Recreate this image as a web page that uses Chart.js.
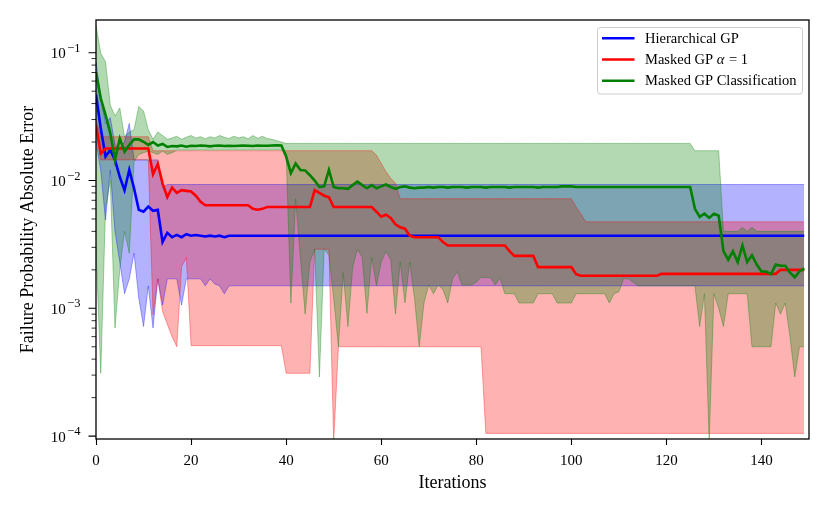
<!DOCTYPE html>
<html>
<head>
<meta charset="utf-8">
<script src="https://cdn.jsdelivr.net/npm/chart.js@4.4.0/dist/chart.umd.min.js"></script>
<style>
html, body { margin: 0; padding: 0; background: #fff; }
canvas { display: block; }
</style>
</head>
<body>
<canvas id="errChart" width="830" height="513"></canvas>
<script>
// ---- data ----
const iterations = [
  0, 1, 2, 3, 4, 5, 6, 7, 8, 9, 10, 11, 12, 13, 14, 15, 16, 17, 18, 19,
  20, 21, 22, 23, 24, 25, 26, 27, 28, 29, 30, 31, 32, 33, 34, 35, 36, 37, 38, 39,
  40, 41, 42, 43, 44, 45, 46, 47, 48, 49, 50, 51, 52, 53, 54, 55, 56, 57, 58, 59,
  60, 61, 62, 63, 64, 65, 66, 67, 68, 69, 70, 71, 72, 73, 74, 75, 76, 77, 78, 79,
  80, 81, 82, 83, 84, 85, 86, 87, 88, 89, 90, 91, 92, 93, 94, 95, 96, 97, 98, 99,
  100, 101, 102, 103, 104, 105, 106, 107, 108, 109, 110, 111, 112, 113, 114, 115, 116, 117, 118, 119,
  120, 121, 122, 123, 124, 125, 126, 127, 128, 129, 130, 131, 132, 133, 134, 135, 136, 137, 138, 139,
  140, 141, 142, 143, 144, 145, 146, 147, 148, 149
];

const seriesNames = ['Hierarchical GP', 'Masked GP \u03b1 = 1', 'Masked GP Classification'];

// Hierarchical GP
const hierMean = [
  0.047, 0.0256, 0.0154, 0.0173, 0.0145, 0.0107, 0.0084, 0.0121, 0.0087, 0.0059,
  0.0057, 0.00625, 0.0058, 0.0059, 0.0033, 0.0039, 0.0036, 0.00375, 0.0036, 0.0038,
  0.0037, 0.00375, 0.0037, 0.00365, 0.0037, 0.00365, 0.0037, 0.0036, 0.0037, 0.0037,
  0.0037, 0.0037, 0.0037, 0.0037, 0.0037, 0.0037, 0.0037, 0.0037, 0.0037, 0.0037,
  0.0037, 0.0037, 0.0037, 0.0037, 0.0037, 0.0037, 0.0037, 0.0037, 0.0037, 0.0037,
  0.0037, 0.0037, 0.0037, 0.0037, 0.0037, 0.0037, 0.0037, 0.0037, 0.0037, 0.0037,
  0.0037, 0.0037, 0.0037, 0.0037, 0.0037, 0.0037, 0.0037, 0.0037, 0.0037, 0.0037,
  0.0037, 0.0037, 0.0037, 0.0037, 0.0037, 0.0037, 0.0037, 0.0037, 0.0037, 0.0037,
  0.0037, 0.0037, 0.0037, 0.0037, 0.0037, 0.0037, 0.0037, 0.0037, 0.0037, 0.0037,
  0.0037, 0.0037, 0.0037, 0.0037, 0.0037, 0.0037, 0.0037, 0.0037, 0.0037, 0.0037,
  0.0037, 0.0037, 0.0037, 0.0037, 0.0037, 0.0037, 0.0037, 0.0037, 0.0037, 0.0037,
  0.0037, 0.0037, 0.0037, 0.0037, 0.0037, 0.0037, 0.0037, 0.0037, 0.0037, 0.0037,
  0.0037, 0.0037, 0.0037, 0.0037, 0.0037, 0.0037, 0.0037, 0.0037, 0.0037, 0.0037,
  0.0037, 0.0037, 0.0037, 0.0037, 0.0037, 0.0037, 0.0037, 0.0037, 0.0037, 0.0037,
  0.0037, 0.0037, 0.0037, 0.0037, 0.0037, 0.0037, 0.0037, 0.0037, 0.0037, 0.0037
];
const hierLow = [
  0.02, 0.012, 0.0049, 0.012, 0.004, 0.0023, 0.0013, 0.0017, 0.0027, 0.0012,
  0.00072, 0.0015, 0.0007, 0.0017, 0.00106, 0.0017, 0.0017, 0.0017, 0.00106, 0.0017,
  0.0017, 0.0017, 0.0017, 0.0015, 0.0017, 0.00155, 0.0015, 0.0013, 0.0015, 0.0015,
  0.0015, 0.0015, 0.0015, 0.0015, 0.0015, 0.0015, 0.0015, 0.0015, 0.0015, 0.0015,
  0.0015, 0.0015, 0.0015, 0.0015, 0.0015, 0.0015, 0.0015, 0.0015, 0.0015, 0.0015,
  0.0015, 0.0015, 0.0015, 0.0015, 0.0015, 0.0015, 0.0015, 0.0015, 0.0015, 0.0015,
  0.0015, 0.0015, 0.0015, 0.0015, 0.0015, 0.0015, 0.0015, 0.0015, 0.0015, 0.0015,
  0.0015, 0.0015, 0.0015, 0.0015, 0.0015, 0.0015, 0.0015, 0.0015, 0.0015, 0.0015,
  0.0015, 0.0015, 0.0015, 0.0015, 0.0015, 0.0015, 0.0015, 0.0015, 0.0015, 0.0015,
  0.0015, 0.0015, 0.0015, 0.0015, 0.0015, 0.0015, 0.0015, 0.0015, 0.0015, 0.0015,
  0.0015, 0.0015, 0.0015, 0.0015, 0.0015, 0.0015, 0.0015, 0.0015, 0.0015, 0.0015,
  0.0015, 0.0015, 0.0015, 0.0015, 0.0015, 0.0015, 0.0015, 0.0015, 0.0015, 0.0015,
  0.0015, 0.0015, 0.0015, 0.0015, 0.0015, 0.0015, 0.0015, 0.0015, 0.0015, 0.0015,
  0.0015, 0.0015, 0.0015, 0.0015, 0.0015, 0.0015, 0.0015, 0.0015, 0.0015, 0.0015,
  0.0015, 0.0015, 0.0015, 0.0015, 0.0015, 0.0015, 0.0015, 0.0015, 0.0015, 0.0015
];
const hierHigh = [
  0.085, 0.045, 0.028, 0.031, 0.019, 0.018, 0.02, 0.028, 0.0145, 0.0145,
  0.0145, 0.0145, 0.0145, 0.0145, 0.0088, 0.0093, 0.0093, 0.0093, 0.0093, 0.0093,
  0.0093, 0.0093, 0.0093, 0.0093, 0.0093, 0.0093, 0.0093, 0.0093, 0.0093, 0.0093,
  0.0093, 0.0093, 0.0093, 0.0093, 0.0093, 0.0093, 0.0093, 0.0093, 0.0093, 0.0093,
  0.0093, 0.0093, 0.0093, 0.0093, 0.0093, 0.0093, 0.0093, 0.0093, 0.0093, 0.0093,
  0.0093, 0.0093, 0.0093, 0.0093, 0.0093, 0.0093, 0.0093, 0.0093, 0.0093, 0.0093,
  0.0093, 0.0093, 0.0093, 0.0093, 0.0093, 0.0093, 0.0093, 0.0093, 0.0093, 0.0093,
  0.0093, 0.0093, 0.0093, 0.0093, 0.0093, 0.0093, 0.0093, 0.0093, 0.0093, 0.0093,
  0.0093, 0.0093, 0.0093, 0.0093, 0.0093, 0.0093, 0.0093, 0.0093, 0.0093, 0.0093,
  0.0093, 0.0093, 0.0093, 0.0093, 0.0093, 0.0093, 0.0093, 0.0093, 0.0093, 0.0093,
  0.0093, 0.0093, 0.0093, 0.0093, 0.0093, 0.0093, 0.0093, 0.0093, 0.0093, 0.0093,
  0.0093, 0.0093, 0.0093, 0.0093, 0.0093, 0.0093, 0.0093, 0.0093, 0.0093, 0.0093,
  0.0093, 0.0093, 0.0093, 0.0093, 0.0093, 0.0093, 0.0093, 0.0093, 0.0093, 0.0093,
  0.0093, 0.0093, 0.0093, 0.0093, 0.0093, 0.0093, 0.0093, 0.0093, 0.0093, 0.0093,
  0.0093, 0.0093, 0.0093, 0.0093, 0.0093, 0.0093, 0.0093, 0.0093, 0.0093, 0.0093
];

// Masked GP alpha = 1
const maskMean = [
  0.027, 0.0163, 0.0178, 0.0178, 0.0178, 0.0178, 0.0178, 0.0178, 0.0178, 0.0178,
  0.0178, 0.0178, 0.0112, 0.0135, 0.0095, 0.0074, 0.0088, 0.008, 0.0084, 0.0083,
  0.0082, 0.0076, 0.0068, 0.0064, 0.0064, 0.0064, 0.0064, 0.0064, 0.0064, 0.0064,
  0.0064, 0.0064, 0.0064, 0.006, 0.0059, 0.006, 0.0062, 0.0062, 0.0062, 0.0062,
  0.0062, 0.0062, 0.0062, 0.0062, 0.0062, 0.0062, 0.0084, 0.008, 0.0076, 0.0074,
  0.0062, 0.0062, 0.0062, 0.0062, 0.0062, 0.0062, 0.0062, 0.0062, 0.0062, 0.0057,
  0.0052, 0.0054, 0.0051, 0.00455, 0.0043, 0.0042, 0.0037, 0.0036, 0.0036, 0.0036,
  0.0036, 0.0036, 0.0036, 0.0033, 0.0031, 0.0031, 0.0031, 0.0031, 0.0031, 0.0031,
  0.0031, 0.0031, 0.0031, 0.0031, 0.0031, 0.0031, 0.0031, 0.0028, 0.00257, 0.00257,
  0.00257, 0.00257, 0.00257, 0.0021, 0.0021, 0.0021, 0.0021, 0.0021, 0.0021, 0.0021,
  0.0021, 0.00185, 0.0018, 0.0018, 0.0018, 0.0018, 0.0018, 0.0018, 0.0018, 0.0018,
  0.0018, 0.0018, 0.0018, 0.0018, 0.0018, 0.0018, 0.0018, 0.0018, 0.0018, 0.00186,
  0.00186, 0.00186, 0.00186, 0.00186, 0.00186, 0.00186, 0.00186, 0.00186, 0.00186, 0.00186,
  0.00186, 0.00186, 0.00186, 0.00186, 0.00186, 0.00186, 0.00186, 0.00186, 0.00186, 0.00186,
  0.00186, 0.00186, 0.00186, 0.00186, 0.002, 0.002, 0.002, 0.002, 0.002, 0.002
];
const maskLow = [
  0.025, 0.0145, 0.0145, 0.0145, 0.0145, 0.0145, 0.0145, 0.0145, 0.0145, 0.0145,
  0.0145, 0.0145, 0.00089, 0.0017, 0.00095, 0.00075, 0.0006, 0.0005, 0.0021, 0.0025,
  0.00051, 0.00051, 0.00051, 0.00051, 0.00051, 0.00051, 0.00051, 0.00051, 0.00051, 0.00051,
  0.00051, 0.00051, 0.00051, 0.00051, 0.00051, 0.00051, 0.00051, 0.00051, 0.00051, 0.00051,
  0.00031, 0.00031, 0.00031, 0.00031, 0.00031, 0.00031, 0.0029, 0.0029, 0.0029, 0.0029,
  0.00009, 0.0005, 0.0005, 0.0005, 0.0005, 0.0005, 0.0005, 0.0005, 0.0005, 0.0005,
  0.0005, 0.0005, 0.0005, 0.0005, 0.0005, 0.0005, 0.0005, 0.0005, 0.0005, 0.0005,
  0.0005, 0.0005, 0.0005, 0.0005, 0.0005, 0.0005, 0.0005, 0.0005, 0.0005, 0.0005,
  0.0005, 0.0005, 0.000105, 0.000105, 0.000105, 0.000105, 0.000105, 0.000105, 0.000105, 0.000105,
  0.000105, 0.000105, 0.000105, 0.000105, 0.000105, 0.000105, 0.000105, 0.000105, 0.000105, 0.000105,
  0.000105, 0.000105, 0.000105, 0.000105, 0.000105, 0.000105, 0.000105, 0.000105, 0.000105, 0.000105,
  0.000105, 0.000105, 0.000105, 0.000105, 0.000105, 0.000105, 0.000105, 0.000105, 0.000105, 0.000105,
  0.000105, 0.000105, 0.000105, 0.000105, 0.000105, 0.000105, 0.000105, 0.000105, 0.000105, 0.000105,
  0.000105, 0.000105, 0.000105, 0.000105, 0.000105, 0.000105, 0.000105, 0.000105, 0.000105, 0.000105,
  0.000105, 0.000105, 0.000105, 0.000105, 0.000105, 0.000105, 0.000105, 0.000105, 0.000105, 0.000105
];
const maskHigh = [
  0.03, 0.022, 0.022, 0.022, 0.022, 0.022, 0.022, 0.022, 0.022, 0.022,
  0.022, 0.022, 0.0171, 0.0171, 0.0171, 0.0171, 0.0171, 0.0171, 0.0171, 0.0171,
  0.0171, 0.0171, 0.0171, 0.0171, 0.0171, 0.0171, 0.0171, 0.0171, 0.0171, 0.0171,
  0.0171, 0.0171, 0.0171, 0.0171, 0.0171, 0.0171, 0.0171, 0.0171, 0.0171, 0.0171,
  0.0171, 0.0171, 0.0171, 0.0171, 0.0171, 0.0171, 0.0171, 0.0171, 0.0171, 0.0171,
  0.0171, 0.0171, 0.0171, 0.0171, 0.0171, 0.0171, 0.0171, 0.0171, 0.0171, 0.0158,
  0.0136, 0.0117, 0.0104, 0.0095, 0.0072, 0.0072, 0.0072, 0.0072, 0.0072, 0.0072,
  0.0072, 0.0072, 0.0072, 0.0072, 0.0072, 0.0072, 0.0072, 0.0072, 0.0072, 0.0072,
  0.0072, 0.0072, 0.0072, 0.0072, 0.0072, 0.0072, 0.0072, 0.0072, 0.0072, 0.0072,
  0.0072, 0.0072, 0.0072, 0.0072, 0.0072, 0.0072, 0.0072, 0.0072, 0.0072, 0.0072,
  0.0072, 0.0062, 0.0055, 0.00475, 0.00475, 0.00475, 0.00475, 0.00475, 0.00475, 0.00475,
  0.00475, 0.00475, 0.00475, 0.00475, 0.00475, 0.00475, 0.00475, 0.00475, 0.00475, 0.00475,
  0.00475, 0.00475, 0.00475, 0.00475, 0.00475, 0.00475, 0.00475, 0.00475, 0.00475, 0.00475,
  0.00475, 0.00475, 0.00475, 0.00475, 0.00475, 0.00475, 0.00475, 0.00475, 0.00475, 0.00475,
  0.00475, 0.00475, 0.00475, 0.00475, 0.00475, 0.00475, 0.00475, 0.00475, 0.00475, 0.00475
];

// Masked GP Classification
const clsMean = [
  0.07, 0.044, 0.0326, 0.0235, 0.0145, 0.0213, 0.0168, 0.019, 0.021, 0.021,
  0.0201, 0.019, 0.02, 0.0188, 0.0193, 0.0183, 0.0186, 0.0185, 0.0188, 0.0184,
  0.0187, 0.0186, 0.0188, 0.0187, 0.0185, 0.0187, 0.0188, 0.0186, 0.0187, 0.0186,
  0.0187, 0.0188, 0.0187, 0.0186, 0.0188, 0.0187, 0.0187, 0.0188, 0.0189, 0.0188,
  0.0154, 0.0114, 0.0136, 0.0121, 0.012, 0.011, 0.01, 0.0089, 0.009, 0.0121,
  0.0089, 0.0087, 0.0087, 0.0086, 0.0092, 0.0098, 0.0092, 0.0087, 0.0092, 0.0087,
  0.009, 0.0093, 0.0089, 0.0086, 0.0089, 0.009, 0.0088, 0.0087, 0.0088, 0.0088,
  0.0089, 0.0088, 0.0089, 0.0089, 0.0088, 0.0089, 0.0089, 0.0089, 0.0088, 0.0089,
  0.0089, 0.0089, 0.0088, 0.0089, 0.0089, 0.0089, 0.0089, 0.0088, 0.0089, 0.0089,
  0.0089, 0.0089, 0.0089, 0.0088, 0.0089, 0.0089, 0.0089, 0.0089, 0.009, 0.009,
  0.009, 0.0089, 0.0089, 0.0089, 0.0089, 0.0089, 0.0089, 0.0089, 0.0089, 0.0089,
  0.0089, 0.0089, 0.0089, 0.0089, 0.0089, 0.0089, 0.0089, 0.0089, 0.0089, 0.0089,
  0.0089, 0.0089, 0.0089, 0.0089, 0.0089, 0.0089, 0.006, 0.0052, 0.0055, 0.0051,
  0.0055, 0.0053, 0.0028, 0.0024, 0.0028, 0.0023, 0.0031, 0.0023, 0.0026, 0.0022,
  0.00194, 0.00194, 0.00185, 0.0022, 0.00215, 0.00215, 0.0019, 0.00175, 0.00194, 0.00205
];
const clsLow = [
  0.003, 0.00031, 0.006, 0.01, 0.0007, 0.002, 0.004, 0.0027, 0.014, 0.016,
  0.0165, 0.017, 0.0165, 0.016, 0.017, 0.016, 0.0165, 0.0173, 0.0173, 0.0173,
  0.0173, 0.0173, 0.0173, 0.0173, 0.0173, 0.0173, 0.0173, 0.0173, 0.0173, 0.0173,
  0.0173, 0.0173, 0.0173, 0.0173, 0.0173, 0.0173, 0.0173, 0.0173, 0.0173, 0.0173,
  0.0165, 0.0011, 0.0072, 0.0025, 0.0009, 0.0023, 0.0029, 0.00029, 0.0029, 0.0026,
  0.0012, 0.0005, 0.0019, 0.00072, 0.0021, 0.0029, 0.0025, 0.00091, 0.0025, 0.0015,
  0.0023, 0.0028, 0.0024, 0.0009, 0.0023, 0.0011, 0.0023, 0.0012, 0.0005, 0.0011,
  0.00152, 0.0013, 0.00152, 0.0014, 0.0011, 0.0017, 0.00194, 0.00152, 0.00152, 0.00152,
  0.0016, 0.00174, 0.00174, 0.00174, 0.00152, 0.00174, 0.0013, 0.0013, 0.0013, 0.0011,
  0.0011, 0.0011, 0.0011, 0.0013, 0.0013, 0.0013, 0.0013, 0.0011, 0.0011, 0.0011,
  0.0011, 0.0013, 0.0013, 0.0013, 0.0013, 0.0013, 0.0013, 0.0013, 0.0011, 0.0013,
  0.00135, 0.0017, 0.0017, 0.0016, 0.0015, 0.0015, 0.0015, 0.0015, 0.0015, 0.0015,
  0.0015, 0.0015, 0.0015, 0.0015, 0.0015, 0.0015, 0.0015, 0.00072, 0.0013, 0.00009,
  0.0013, 0.001, 0.00072, 0.0013, 0.0013, 0.0013, 0.0013, 0.0013, 0.0005, 0.0005,
  0.0005, 0.0005, 0.0005, 0.0011, 0.0009, 0.0011, 0.0006, 0.00029, 0.0005, 0.0005
];
const clsHigh = [
  0.165, 0.099, 0.085, 0.039, 0.032, 0.037, 0.022, 0.024, 0.025, 0.038,
  0.035, 0.025, 0.021, 0.024, 0.0225, 0.021, 0.0215, 0.0222, 0.021, 0.0218,
  0.0225, 0.0215, 0.022, 0.0212, 0.022, 0.0215, 0.0225, 0.0218, 0.0213, 0.0222,
  0.0215, 0.022, 0.0212, 0.0225, 0.0214, 0.0222, 0.0213, 0.021, 0.0205, 0.02,
  0.0195, 0.0195, 0.0195, 0.0195, 0.0195, 0.0195, 0.0195, 0.0195, 0.0195, 0.0195,
  0.0195, 0.0195, 0.0195, 0.0195, 0.0195, 0.0195, 0.0195, 0.0195, 0.0195, 0.0195,
  0.0195, 0.0195, 0.0195, 0.0195, 0.0195, 0.0195, 0.0195, 0.0195, 0.0195, 0.0195,
  0.0195, 0.0195, 0.0195, 0.0195, 0.0195, 0.0195, 0.0195, 0.0195, 0.0195, 0.0195,
  0.0195, 0.0195, 0.0195, 0.0195, 0.0195, 0.0195, 0.0195, 0.0195, 0.0195, 0.0195,
  0.0195, 0.0195, 0.0195, 0.0195, 0.0195, 0.0195, 0.0195, 0.0195, 0.0195, 0.0195,
  0.0195, 0.0195, 0.0195, 0.0195, 0.0195, 0.0195, 0.0195, 0.0195, 0.0195, 0.0195,
  0.0195, 0.0195, 0.0195, 0.0195, 0.0195, 0.0195, 0.0195, 0.0195, 0.0195, 0.0195,
  0.0195, 0.0195, 0.0195, 0.0195, 0.0195, 0.0195, 0.0171, 0.0171, 0.0171, 0.0171,
  0.0171, 0.0171, 0.004, 0.004, 0.004, 0.004, 0.0043, 0.004, 0.0043, 0.004,
  0.004, 0.004, 0.004, 0.004, 0.004, 0.004, 0.004, 0.004, 0.004, 0.004
];

// axes
const xTicks = [0, 20, 40, 60, 80, 100, 120, 140];
const yTicks = [1e-4, 1e-3, 1e-2, 1e-1];
const yTickExponents = ['\u22124', '\u22123', '\u22122', '\u22121'];
const yMin = 9.49e-5;
const yMax = 0.1803;

const serif = '"Liberation Serif", "Times New Roman", serif';

// frame, y ticks, axis titles and legend, drawn the matplotlib way
const decorations = {
  id: 'decorations',
  afterDraw(chart) {
    const { ctx, chartArea: a, scales: { y } } = chart;
    ctx.save();
    ctx.strokeStyle = '#000';
    ctx.fillStyle = '#000';

    // y ticks: majors with labels, minors 2..9
    ctx.lineWidth = 1.1;
    ctx.beginPath();
    yTicks.forEach(v => {
      const py = y.getPixelForValue(v);
      ctx.moveTo(a.left, py);
      ctx.lineTo(a.left - 7.5, py);
    });
    ctx.stroke();
    ctx.lineWidth = 0.8;
    ctx.beginPath();
    for (let e = -5; e <= -1; e++) {
      for (let m = 2; m <= 9; m++) {
        const v = m * Math.pow(10, e);
        if (v < yMin || v > yMax) continue;
        const py = y.getPixelForValue(v);
        ctx.moveTo(a.left, py);
        ctx.lineTo(a.left - 4.5, py);
      }
    }
    ctx.stroke();

    yTicks.forEach((v, i) => {
      const py = y.getPixelForValue(v);
      const right = a.left - 15.5;
      ctx.font = '12.5px ' + serif;
      ctx.textBaseline = 'alphabetic';
      ctx.textAlign = 'right';
      const ew = ctx.measureText(yTickExponents[i]).width;
      ctx.fillText(yTickExponents[i], right, py - 1);
      ctx.font = '15px ' + serif;
      ctx.fillText('10', right - ew - 1.5, py + 5.5);
    });

    // frame
    ctx.lineWidth = 1.3;
    ctx.strokeRect(a.left, a.top, a.right - a.left, a.bottom - a.top);

    // axis titles
    ctx.font = '18px ' + serif;
    ctx.textAlign = 'center';
    ctx.textBaseline = 'alphabetic';
    ctx.fillText('Iterations', (a.left + a.right) / 2, 488);
    ctx.save();
    ctx.translate(33, (a.top + a.bottom) / 2);
    ctx.rotate(-Math.PI / 2);
    ctx.fillText('Failure Probability Absolute Error', 0, 0);
    ctx.restore();

    // legend
    const w = 205, h = 66.5;
    const lx = a.right - 6.5 - w, ly = a.top + 7.5;
    ctx.beginPath();
    if (ctx.roundRect) ctx.roundRect(lx, ly, w, h, 3); else ctx.rect(lx, ly, w, h);
    ctx.fillStyle = 'rgba(255,255,255,0.8)';
    ctx.fill();
    ctx.strokeStyle = '#cccccc';
    ctx.lineWidth = 1;
    ctx.stroke();

    const colors = ['#0000ff', '#ff0000', '#008000'];
    seriesNames.forEach((name, i) => {
      const ry = ly + 10.8 + i * 21.2;
      ctx.strokeStyle = colors[i];
      ctx.lineWidth = 2.6;
      ctx.beginPath();
      ctx.moveTo(lx + 4.5, ry);
      ctx.lineTo(lx + 37, ry);
      ctx.stroke();
      ctx.fillStyle = '#000';
      ctx.textAlign = 'left';
      ctx.textBaseline = 'alphabetic';
      let tx = lx + 47.5;
      name.split(/(\u03b1)/).forEach(part => {
        if (!part) return;
        ctx.font = (part === '\u03b1' ? 'italic ' : '') + '14.5px ' + serif;
        ctx.fillText(part, tx, ry + 4.5);
        tx += ctx.measureText(part).width + (part === '\u03b1' ? 1 : 0);
      });
    });
    ctx.restore();
  }
};

const lineStyle = { pointRadius: 0, tension: 0, fill: false };

const ctx = document.getElementById('errChart').getContext('2d');
const errChart = new Chart(ctx, {
  type: 'line',
  data: {
    labels: iterations,
    datasets: [
      // mean curves on top (lowest index is drawn last)
      { ...lineStyle, label: seriesNames[2], data: clsMean, borderColor: '#008000', borderWidth: 2.6 },
      { ...lineStyle, label: seriesNames[1], data: maskMean, borderColor: '#ff0000', borderWidth: 2.6 },
      { ...lineStyle, label: seriesNames[0], data: hierMean, borderColor: '#0000ff', borderWidth: 2.6 },
      // spread bands
      { ...lineStyle, label: 'cls low', data: clsLow, borderColor: 'rgba(0,128,0,0.35)', borderWidth: 1 },
      { ...lineStyle, label: 'cls high', data: clsHigh, borderColor: 'rgba(0,128,0,0.35)', borderWidth: 1,
        backgroundColor: 'rgba(0,128,0,0.3)', fill: '-1' },
      { ...lineStyle, label: 'mask low', data: maskLow, borderColor: 'rgba(255,0,0,0.35)', borderWidth: 1 },
      { ...lineStyle, label: 'mask high', data: maskHigh, borderColor: 'rgba(255,0,0,0.35)', borderWidth: 1,
        backgroundColor: 'rgba(255,0,0,0.3)', fill: '-1' },
      { ...lineStyle, label: 'hier low', data: hierLow, borderColor: 'rgba(0,0,255,0.35)', borderWidth: 1 },
      { ...lineStyle, label: 'hier high', data: hierHigh, borderColor: 'rgba(0,0,255,0.35)', borderWidth: 1,
        backgroundColor: 'rgba(0,0,255,0.3)', fill: '-1' }
    ]
  },
  options: {
    responsive: false,
    animation: false,
    devicePixelRatio: 1,
    layout: { padding: { left: 0, top: 20, right: 21, bottom: 0 } },
    plugins: {
      legend: { display: false },
      tooltip: { enabled: false },
      filler: { drawTime: 'beforeDatasetsDraw' }
    },
    scales: {
      x: {
        type: 'linear',
        min: 0,
        max: 150,
        afterBuildTicks: s => { s.ticks = xTicks.map(v => ({ value: v })); },
        afterFit: s => { s.height = 74; },
        border: { display: false },
        grid: { display: true, drawOnChartArea: false, drawTicks: true, tickLength: 6,
                tickColor: '#000', tickWidth: 1.1, color: 'rgba(0,0,0,0)' },
        ticks: { autoSkip: false, maxRotation: 0, padding: 7, color: '#000',
                 font: { family: serif, size: 15 } }
      },
      y: {
        type: 'logarithmic',
        min: yMin,
        max: yMax,
        afterBuildTicks: s => { s.ticks = yTicks.map(v => ({ value: v })); },
        afterFit: s => { s.width = 96; },
        border: { display: false },
        grid: { display: false },
        ticks: { display: false }
      }
    }
  },
  plugins: [decorations]
});
</script>
</body>
</html>
